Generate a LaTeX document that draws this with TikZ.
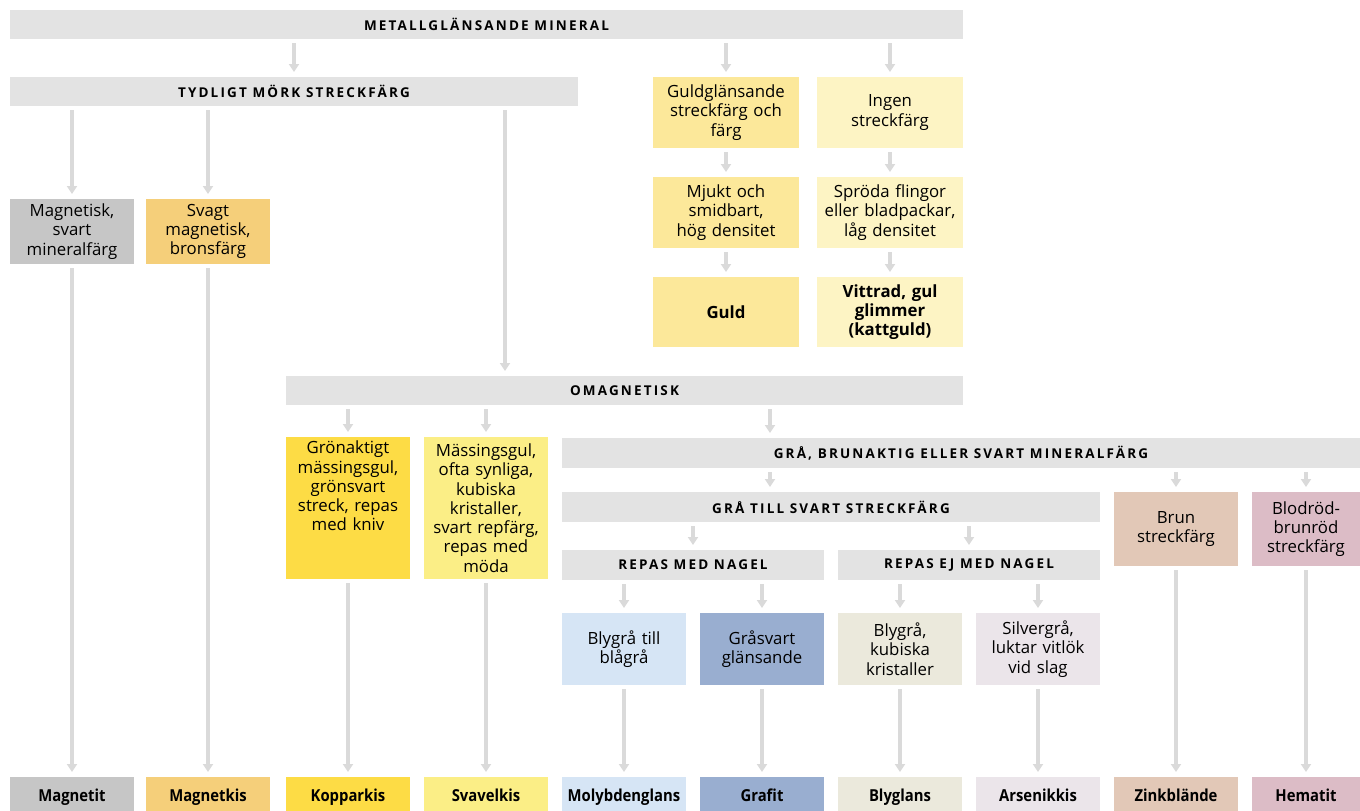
\documentclass[tikz,border=0pt]{standalone}
\usepackage{fontspec}
\setmainfont{Open Sans}
\newfontfamily\headf[LetterSpace=16]{Open Sans}
\newfontfamily\labf[FakeStretch=0.9]{Open Sans}
\usetikzlibrary{arrows.meta}
\definecolor{barg}{HTML}{E3E3E3}
\definecolor{arrg}{HTML}{DADADA}
\definecolor{cmag}{HTML}{C6C6C6}
\definecolor{csvg}{HTML}{F5CF7A}
\definecolor{cgul}{HTML}{FCE89A}
\definecolor{cing}{HTML}{FDF4C4}
\definecolor{cgron}{HTML}{FDDC45}
\definecolor{cmass}{HTML}{FBEE86}
\definecolor{cbly}{HTML}{D6E5F5}
\definecolor{cgra}{HTML}{99AED0}
\definecolor{ckub}{HTML}{EBE9DC}
\definecolor{csil}{HTML}{EBE5EA}
\definecolor{cbrun}{HTML}{E2C8B7}
\definecolor{cblod}{HTML}{DCBCC6}
\begin{document}
\begin{tikzpicture}[x=1pt,y=-1pt,
  base/.style={anchor=north west, inner sep=0pt, outer sep=0pt, align=center, text=black},
  bar/.style={base, fill=barg, minimum height=29pt, font=\headf\bfseries\fontsize{13.5}{15}\selectfont},
  box/.style={base, minimum width=124pt, text width=122pt, font=\fontsize{16.8}{19.3}\selectfont},
  fin/.style={box, minimum height=34pt, text height=16pt, text depth=2pt, font=\labf\bfseries\fontsize{16.5}{19.3}\selectfont},
  arr/.style={draw=arrg, line width=3.4pt, -{Triangle[width=10pt,length=8pt]}, shorten <=4pt, shorten >=5pt}]
\useasboundingbox (0,0) rectangle (1360,811);
% top bars
\node[bar, minimum width=953pt] (m) at (10,10) {METALLGLÄNSANDE MINERAL};
\node[bar, minimum width=568pt] (t) at (10,77) {TYDLIGT MÖRK STRECKFÄRG};
% gold column
\node[box, fill=cgul, minimum width=146pt, minimum height=71pt] (g1) at (653,77) {Guldglänsande\\streckfärg och\\färg};
\node[box, fill=cing, minimum width=146pt, minimum height=71pt] (i1) at (817,77) {Ingen\\streckfärg};
\node[box, fill=cgul, minimum width=146pt, minimum height=71pt] (g2) at (653,177) {Mjukt och\\smidbart,\\hög densitet};
\node[box, fill=cing, minimum width=146pt, minimum height=71pt, text width=144pt] (i2) at (817,177) {Spröda flingor\\eller bladpackar,\\låg densitet};
\node[box, fill=cgul, minimum width=146pt, minimum height=70pt, font=\bfseries\fontsize{16.8}{19.3}\selectfont] (g3) at (653,277) {Guld};
\node[box, fill=cing, minimum width=146pt, minimum height=70pt, font=\bfseries\fontsize{16.8}{19.3}\selectfont] (i3) at (817,277) {Vittrad, gul\\glimmer\\(kattguld)};
% magnetic
\node[box, fill=cmag, minimum height=65pt] (mag) at (10,199) {Magnetisk,\\svart\\mineralfärg};
\node[box, fill=csvg, minimum height=65pt] (svg) at (146,199) {Svagt\\magnetisk,\\bronsfärg};
% omagnetisk
\node[bar, minimum width=677pt] (om) at (286,376) {OMAGNETISK};
\node[box, fill=cgron, minimum height=142pt] (gron) at (286,437) {};
\node[box, anchor=north] (grontxt) at ([yshift=-4pt]gron.north) {Grönaktigt\\mässingsgul,\\grönsvart\\streck, repas\\med kniv};
\node[box, fill=cmass, minimum height=142pt] (mass) at (424,437) {Mässingsgul,\\ofta synliga,\\kubiska\\kristaller,\\svart repfärg,\\repas med\\möda};
\node[bar, minimum width=798pt, minimum height=30pt] (gb) at (562,438) {GRÅ, BRUNAKTIG ELLER SVART MINERALFÄRG};
\node[bar, minimum width=538pt, minimum height=30pt] (gts) at (562,492) {GRÅ TILL SVART STRECKFÄRG};
\node[bar, minimum width=262pt, minimum height=30pt] (rm) at (562,550) {REPAS MED NAGEL};
\node[bar, minimum width=262pt, minimum height=30pt] (rej) at (838,550) {REPAS EJ MED NAGEL};
\node[box, fill=cbly, minimum height=72pt] (b1) at (562,613) {Blygrå till\\blågrå};
\node[box, fill=cgra, minimum height=72pt] (b2) at (700,613) {Gråsvart\\glänsande};
\node[box, fill=ckub, minimum height=72pt] (b3) at (838,613) {Blygrå,\\kubiska\\kristaller};
\node[box, fill=csil, minimum height=72pt] (b4) at (976,613) {Silvergrå,\\luktar vitlök\\vid slag};
\node[box, fill=cbrun, minimum height=74pt] (brun) at (1114,492) {Brun\\streckfärg};
\node[box, fill=cblod, minimum width=108pt, text width=106pt, minimum height=74pt] (blod) at (1252,492) {Blodröd-\\brunröd\\streckfärg};
% final row
\node[fin, fill=cmag] (f1) at (10,777) {Magnetit};
\node[fin, fill=csvg] (f2) at (146,777) {Magnetkis};
\node[fin, fill=cgron] (f3) at (286,777) {Kopparkis};
\node[fin, fill=cmass] (f4) at (424,777) {Svavelkis};
\node[fin, fill=cbly] (f5) at (562,777) {Molybdenglans};
\node[fin, fill=cgra] (f6) at (700,777) {Grafit};
\node[fin, fill=ckub] (f7) at (838,777) {Blyglans};
\node[fin, fill=csil] (f8) at (976,777) {Arsenikkis};
\node[fin, fill=cbrun] (f9) at (1114,777) {Zinkblände};
\node[fin, fill=cblod, minimum width=108pt, text width=106pt] (f10) at (1252,777) {Hematit};
% arrows
\draw[arr] (m.south -| t.north) -- (t.north);
\draw[arr] (m.south -| g1.north) -- (g1.north);
\draw[arr] (m.south -| i1.north) -- (i1.north);
\draw[arr] (g1) -- (g2);
\draw[arr] (g2) -- (g3);
\draw[arr] (i1) -- (i2);
\draw[arr] (i2) -- (i3);
\draw[arr] (t.south -| mag.north) -- (mag.north);
\draw[arr] (t.south -| svg.north) -- (svg.north);
\draw[arr] (t.south -| 505,0) -- (om.north -| 505,0);
\draw[arr] (om.south -| gron.north) -- (gron.north);
\draw[arr] (om.south -| mass.north) -- (mass.north);
\draw[arr] (om.south -| 770,0) -- (gb.north -| 770,0);
\draw[arr] (gb.south -| 770,0) -- (gts.north -| 770,0);
\draw[arr] (gb.south -| brun.north) -- (brun.north);
\draw[arr] (gb.south -| blod.north) -- (blod.north);
\draw[arr] (gts.south -| rm.north) -- (rm.north);
\draw[arr] (gts.south -| rej.north) -- (rej.north);
\draw[arr] (rm.south -| b1.north) -- (b1.north);
\draw[arr] (rm.south -| b2.north) -- (b2.north);
\draw[arr] (rej.south -| b3.north) -- (b3.north);
\draw[arr] (rej.south -| b4.north) -- (b4.north);
\draw[arr] (mag) -- (f1);
\draw[arr] (svg) -- (f2);
\draw[arr] (gron) -- (f3);
\draw[arr] (mass) -- (f4);
\draw[arr] (b1) -- (f5);
\draw[arr] (b2) -- (f6);
\draw[arr] (b3) -- (f7);
\draw[arr] (b4) -- (f8);
\draw[arr] (brun) -- (f9);
\draw[arr] (blod) -- (f10);
\end{tikzpicture}
\end{document}
